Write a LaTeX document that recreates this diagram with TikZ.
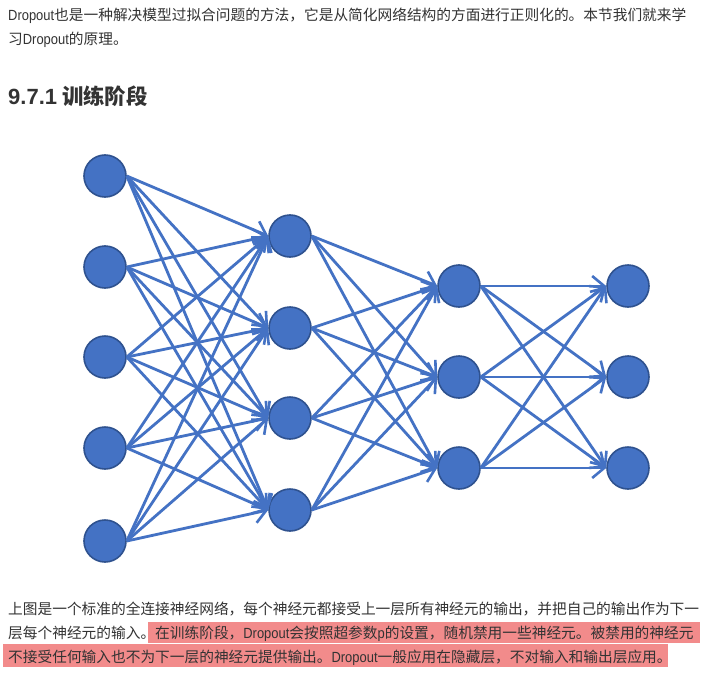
\documentclass[tikz,border=0pt]{standalone}
\usepackage{fontspec}
\setmainfont{Noto Sans CJK SC}
\newfontfamily\lat[FakeStretch=0.88]{Liberation Sans}
\newfontfamily\latb{Liberation Sans}
\usetikzlibrary{arrows.meta}
\definecolor{nblue}{RGB}{68,114,196}
\definecolor{nborder}{RGB}{47,82,143}
\definecolor{hl}{RGB}{242,139,139}
\definecolor{txt}{RGB}{51,51,51}
\newcommand{\dropw}{{\lat Dropout}}
\begin{document}
\begin{tikzpicture}[x=1pt,y=-1pt,
  neuron/.style={circle, fill=nblue, draw=nborder, line width=1.6pt, minimum size=42pt, inner sep=0pt},
  conn/.style={draw=nblue, line width=2.8pt, -{Straight Barb[length=12pt,width=20pt,line width=2.6pt]}},
  para/.style={anchor=base west, inner sep=0pt, text=txt, font=\fontsize{14.7}{18}\selectfont},
  head/.style={anchor=base west, inner sep=0pt, text=txt, font=\fontsize{21.4}{26}\selectfont\bfseries},
  hlbox/.style={fill=hl, draw=none}]
\useasboundingbox (0,0) rectangle (711,682);
\fill[white] (0,0) rectangle (711,682);

% text
\node[para] (t1) at (8,21) {\dropw 也是一种解决模型过拟合问题的方法，它是从简化网络结构的方面进行正则化的。本节我们就来学};
\node[para] (t2) at (8,45) {习\dropw 的原理。};
\node[head] (h) at (8,104) {{\latb\fontsize{22}{26}\selectfont\bfseries 9.7.1} 训练阶段};

\fill[hlbox] (148,622) rectangle (700,643);
\fill[hlbox] (3,644) rectangle (668,667);
\node[para] (b1) at (8,614) {上图是一个标准的全连接神经网络，每个神经元都接受上一层所有神经元的输出，并把自己的输出作为下一};
\node[para] (b2a) at (8,638) {层每个神经元的输入。};
\node[para] (b2b) at (155,638) {在训练阶段，\dropw 会按照超参数{\lat p}的设置，随机禁用一些神经元。被禁用的神经元};
\node[para] (b3) at (8,662) {不接受任何输入也不为下一层的神经元提供输出。\dropw 一般应用在隐藏层，不对输入和输出层应用。};

% neurons
\foreach \y [count=\i] in {176,267,357,448,541} \node[neuron] (a\i) at (105,\y) {};
\foreach \y [count=\i] in {236,328,418,510} \node[neuron] (b\i) at (290,\y) {};
\foreach \y [count=\i] in {286,377,468} \node[neuron] (c\i) at (459,\y) {};
\foreach \y [count=\i] in {286,377,468} \node[neuron] (d\i) at (628,\y) {};

% connections
\foreach \i in {1,...,5} \foreach \j in {1,...,4} \draw[conn] (a\i.east) -- (b\j.west);
\foreach \i in {1,...,4} \foreach \j in {1,...,3} \draw[conn] (b\i.east) -- (c\j.west);
\foreach \i in {1,...,3} \foreach \j in {1,...,3} \draw[conn] (c\i.east) -- (d\j.west);
\end{tikzpicture}
\end{document}
